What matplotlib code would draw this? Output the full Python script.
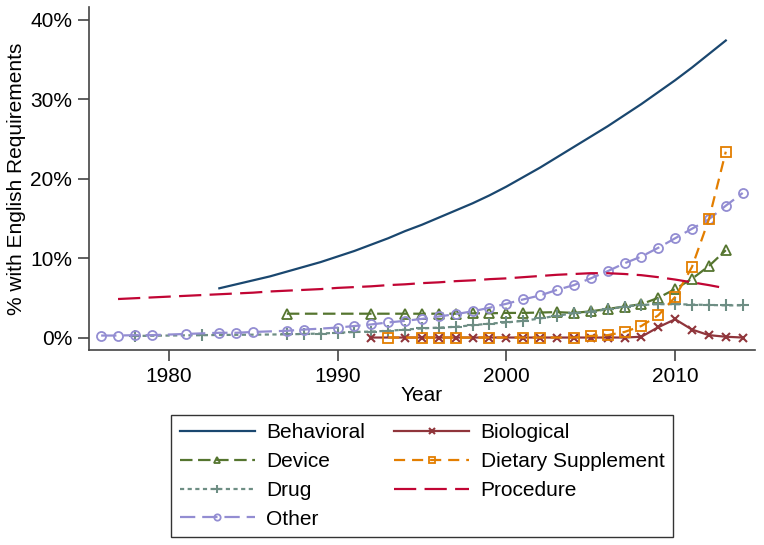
import numpy as np
import matplotlib
matplotlib.use('Agg')
from matplotlib import pyplot as plt

plt.rcParams['font.family'] = ['Liberation Sans', 'DejaVu Sans']
plt.rcParams['lines.scale_dashes'] = False

# --- data ---
beh_years = list(range(1983, 2014))
beh_vals = [6.2, 6.7, 7.2, 7.7, 8.3, 8.9, 9.5, 10.2, 10.9, 11.7, 12.5, 13.4, 14.2, 15.1,
            16.0, 16.9, 17.9, 19.0, 20.2, 21.4, 22.7, 24.0, 25.3, 26.6, 28.0, 29.4, 30.9,
            32.4, 34.0, 35.7, 37.4]

bio_years = [1992, 1994, 1995, 1996, 1997, 1998, 1999, 2000, 2001, 2002, 2003, 2004, 2005,
             2006, 2007, 2008, 2009, 2010, 2011, 2012, 2013, 2014]
bio_vals = [0, 0, 0, 0, 0, 0, 0, 0, 0, 0, 0, 0, 0, 0, 0, 0.1, 1.3, 2.3, 1.0, 0.3, 0.1, 0.0]

dev_years = [1987, 1992] + list(range(1994, 2014))
dev_vals = [3.0, 3.0, 3.0, 3.0, 3.0, 3.0, 3.05, 3.05, 3.1, 3.1, 3.15, 3.2, 3.1, 3.3,
            3.6, 3.9, 4.2, 5.0, 6.1, 7.4, 9.0, 11.0]

diet_years = [1993, 1995, 1996, 1997, 1999, 2001, 2002, 2004, 2005, 2006, 2007, 2008,
              2009, 2010, 2011, 2012, 2013]
diet_vals = [0, 0, 0, 0, 0, 0, 0, 0, 0.2, 0.3, 0.7, 1.45, 2.8, 5.1, 8.9, 14.9, 23.4]

drug_years = [1978, 1982] + list(range(1987, 2015))
drug_vals = [0.2, 0.3, 0.4, 0.45, 0.5, 0.6, 0.7, 0.75, 0.85, 1.0, 1.15, 1.25, 1.35, 1.55,
             1.75, 1.9, 2.1, 2.4, 2.75, 3.05, 3.25, 3.55, 3.9, 4.1, 4.2, 4.2, 4.15, 4.1,
             4.05, 4.05]

proc_years = list(range(1977, 2014))
proc_vals = [4.85, 4.95, 5.05, 5.15, 5.25, 5.35, 5.45, 5.55, 5.65, 5.8, 5.9, 6.0, 6.1,
             6.25, 6.35, 6.45, 6.6, 6.7, 6.85, 6.95, 7.1, 7.2, 7.35, 7.45, 7.6, 7.75,
             7.9, 8.0, 8.1, 8.1, 8.0, 7.85, 7.6, 7.3, 6.95, 6.6, 6.2]

oth_years = [1976, 1977, 1978, 1979, 1981, 1983, 1984, 1985, 1987, 1988] + list(range(1990, 2015))
oth_vals = [0.25, 0.25, 0.3, 0.3, 0.45, 0.6, 0.6, 0.7, 0.85, 1.0, 1.25, 1.45, 1.65, 1.9,
            2.1, 2.35, 2.65, 2.95, 3.3, 3.75, 4.25, 4.8, 5.3, 6.0, 6.6, 7.45, 8.35, 9.35,
            10.2, 11.3, 12.5, 13.7, 14.9, 16.6, 18.2]

fig = plt.figure(figsize=(7.64, 5.45), dpi=100)
ax = fig.add_axes([89/764, 1-350/545, (755-89)/764, (350-7)/545])

mk = dict(markersize=6.5, markeredgewidth=1.3, markerfacecolor='none')
ax.plot(beh_years, beh_vals, color='#1a476f', lw=1.6, label='Behavioral')
ax.plot(dev_years, dev_vals, color='#55752f', lw=1.6, dashes=(9, 4), marker='^',
        markeredgecolor='#55752f', label='Device', **mk)
ax.plot(drug_years, drug_vals, color='#6e8e84', lw=1.6, dashes=(3, 2.5), marker='+',
        markersize=9, markeredgewidth=1.5, label='Drug')
ax.plot(oth_years, oth_vals, color='#938dd2', lw=1.6, dashes=(11, 5), marker='o',
        markeredgecolor='#938dd2', label='Other', **mk)
ax.plot(bio_years, bio_vals, color='#90353b', lw=1.6, marker='x', markersize=6,
        markeredgewidth=1.5, label='Biological')
ax.plot(diet_years, diet_vals, color='#e37e00', lw=1.6, dashes=(8, 5), marker='s',
        markeredgecolor='#e37e00', label='Dietary Supplement', **mk)
ax.plot(proc_years, proc_vals, color='#c10534', lw=1.6, dashes=(16, 6), label='Procedure')

ax.set_xlim(1975.28, 2014.73)
ax.set_ylim(-1.57, 41.62)
ax.set_xticks([1980, 1990, 2000, 2010])
ax.set_yticks([0, 10, 20, 30, 40])
ax.set_yticklabels(['0%', '10%', '20%', '30%', '40%'])
for s in ['top', 'right']:
    ax.spines[s].set_visible(False)
for s in ['left', 'bottom']:
    ax.spines[s].set_color('#444444')
    ax.spines[s].set_linewidth(1.2)
ax.tick_params(length=8, width=1.2, color='#444444', labelsize=15, pad=4)
ax.set_xlabel('Year', fontsize=15, labelpad=0)
ax.set_ylabel('% with English Requirements', fontsize=15, labelpad=3)

leg = fig.legend(loc='upper center', bbox_to_anchor=(422/764, 1-415/545), ncol=2,
                 fontsize=15, frameon=True, fancybox=False, edgecolor='black',
                 handlelength=3.6, handletextpad=0.55, labelspacing=0.47,
                 columnspacing=1.4, borderpad=0.4, borderaxespad=0, markerscale=0.7)
leg.get_frame().set_linewidth(1.0)

fig.savefig('out.png', dpi=100)
